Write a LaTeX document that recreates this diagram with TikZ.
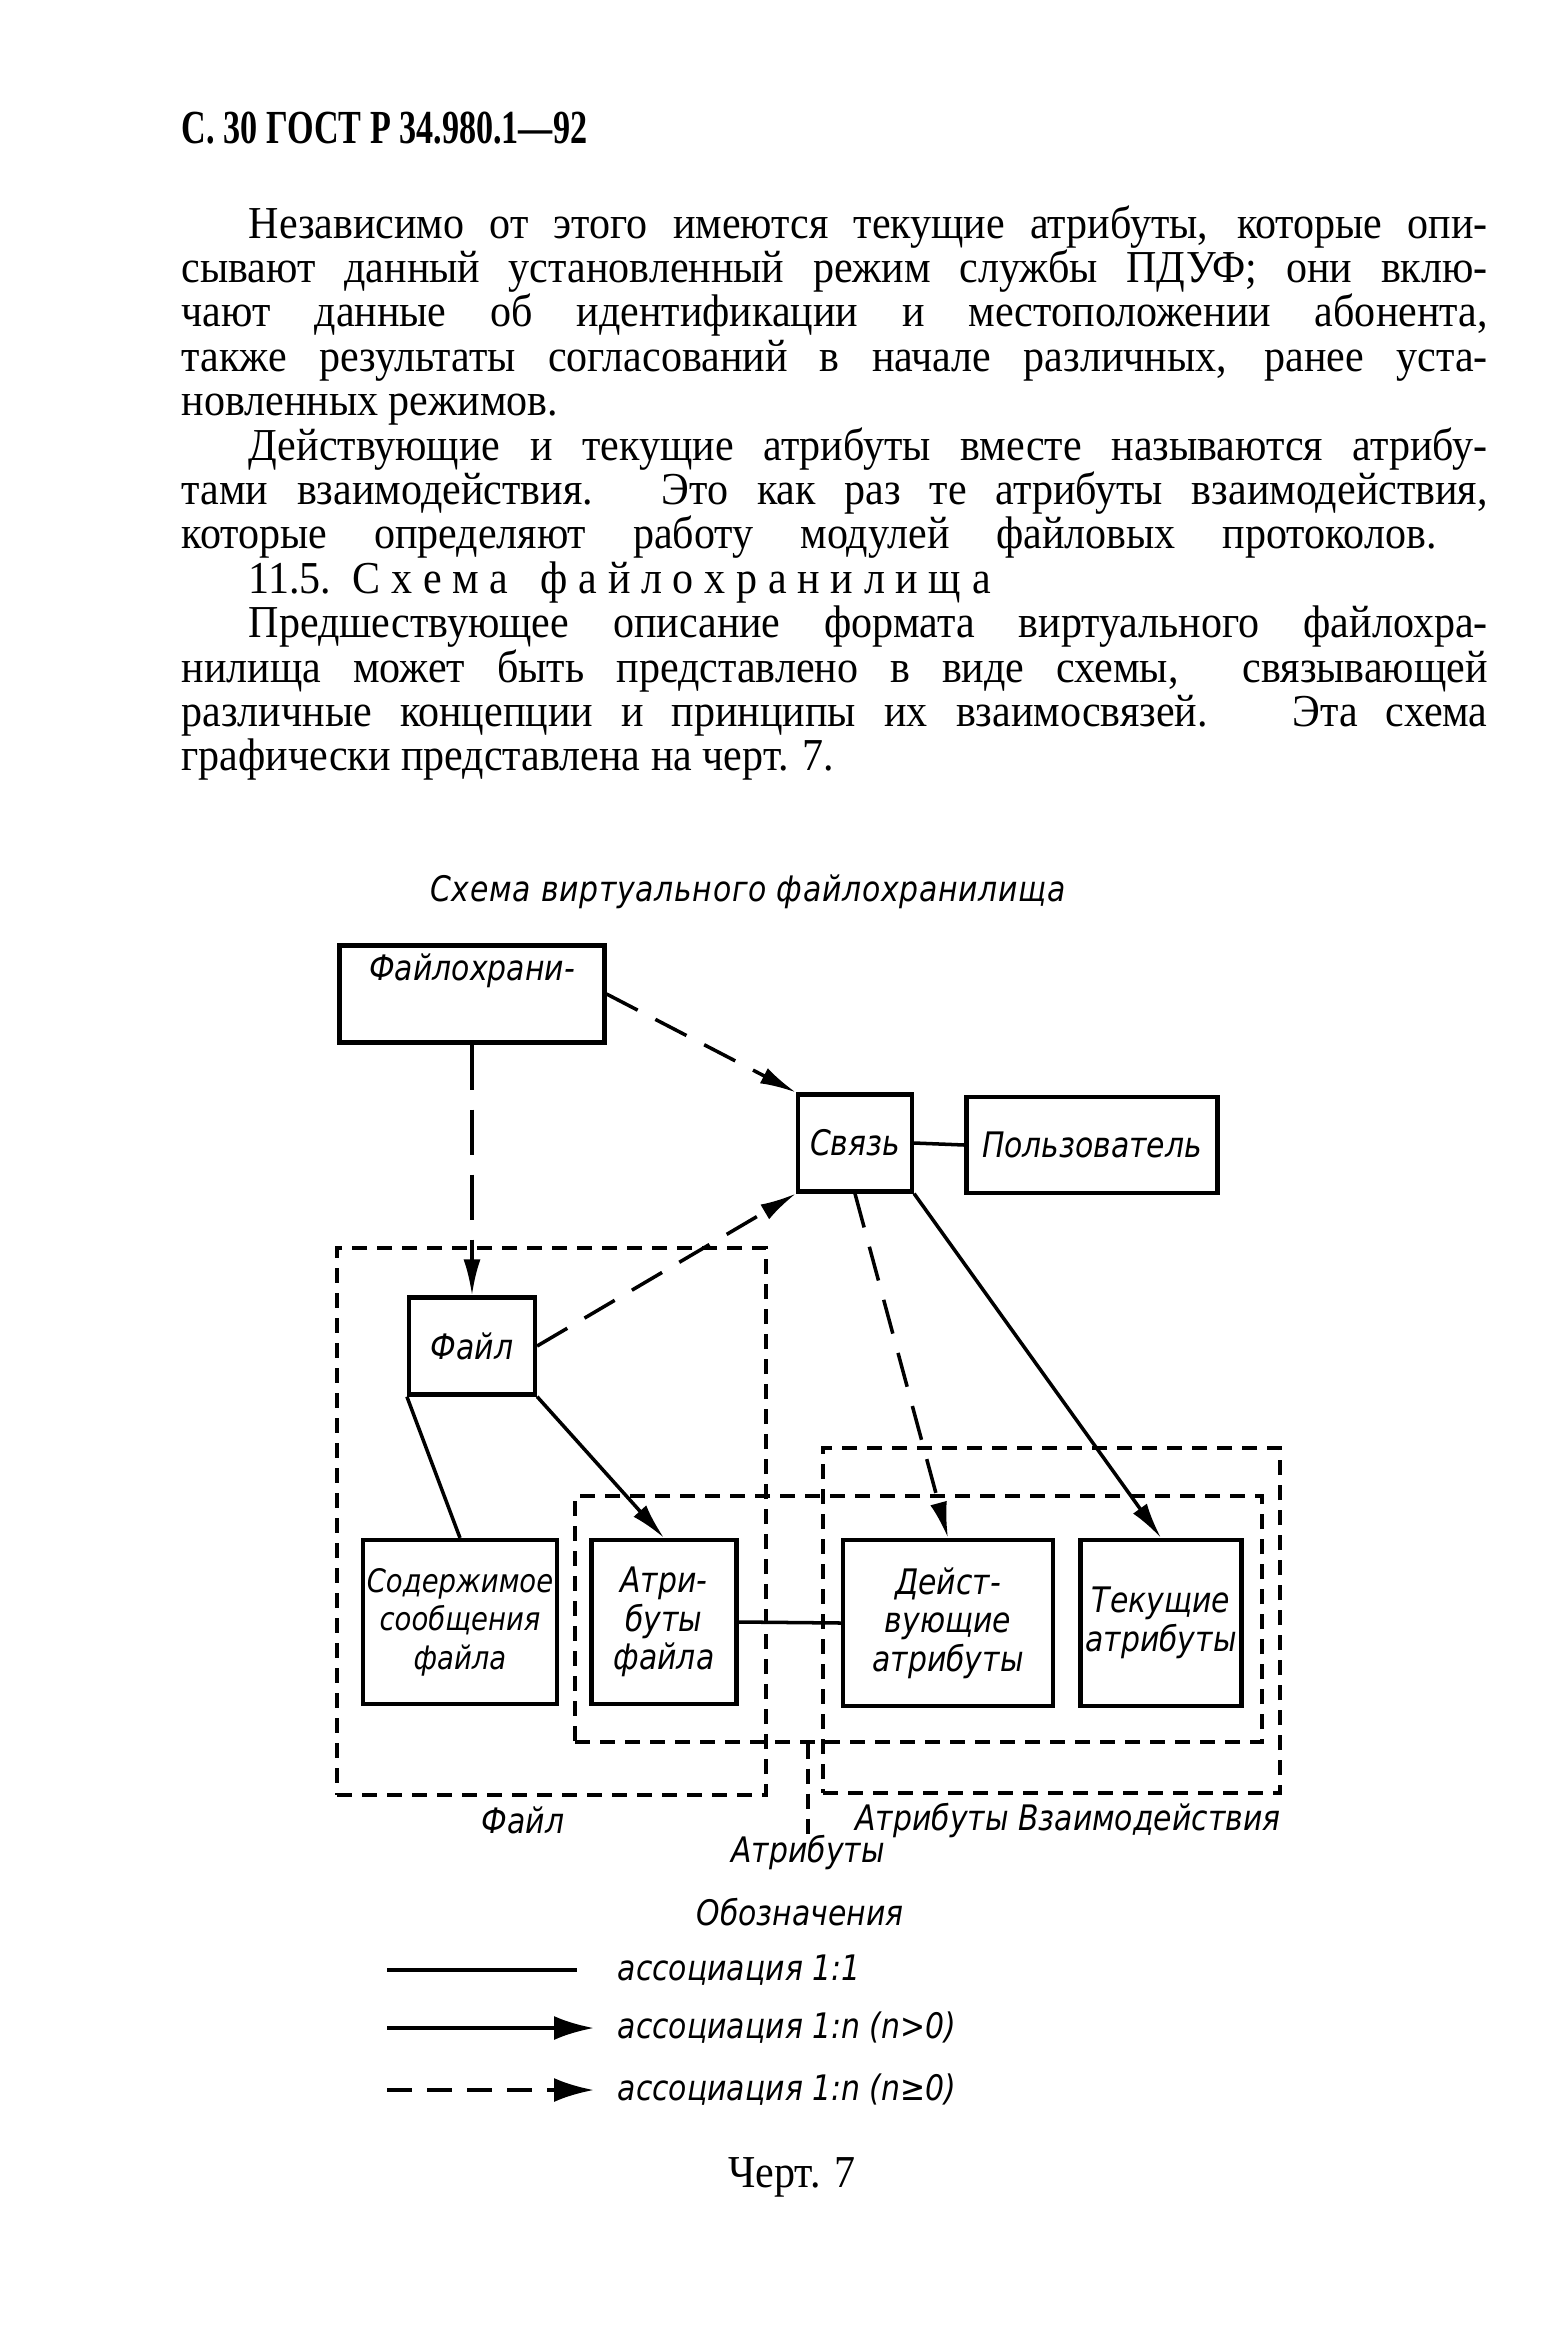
\documentclass[tikz,border=0pt]{standalone}
\usepackage{fontspec}
\setmainfont{Liberation Serif}[FakeStretch=0.92]
\newfontfamily\headfont{Liberation Serif}[FakeStretch=0.72]
\newfontfamily\drawfont{DejaVu Sans}[FakeStretch=0.85]
\usetikzlibrary{arrows.meta}

\begin{document}
\begin{tikzpicture}[x=0.1mm, y=-0.1mm]
  \tikzset{
    txt/.style={inner sep=0pt, font=\fontsize{13}{15}\selectfont},
    box/.style={draw, line width=1.2pt, inner sep=1pt, align=center,
      font=\drawfont\itshape\fontsize{10}{11}\selectfont},
    grp/.style={draw, line width=0.9pt, dash pattern=on 1.5mm off 1mm, inner sep=0pt},
    grpline/.style={line width=0.9pt, dash pattern=on 1.5mm off 1mm},
    lab/.style={inner sep=0pt, font=\drawfont\itshape\fontsize{10}{12}\selectfont},
    link/.style={line width=1pt},
    many/.style={line width=1pt, -{Latex[length=3.6mm, width=1.7mm]}},
    maybe/.style={line width=1pt, dash pattern=on 3.5mm off 2mm, -{Latex[length=3.6mm, width=1.7mm]}},
  }
  \fill[white] (0,0) rectangle (1551,2332);
  \useasboundingbox (0,0) rectangle (1551,2332);

  % page head and text
  \node[txt, anchor=base west] (hd) at (181,143) {\headfont\bfseries\fontsize{13.5}{15}\selectfont С. 30 ГОСТ Р 34.980.1—92};
  \node[txt, anchor=base west] (t1) at (248,238) {\makebox[123.9mm][s]{Независимо от этого имеются текущие атрибуты, которые опи-}};
  \node[txt, anchor=base west] (t2) at (181,282.4) {\makebox[130.6mm][s]{сывают данный установленный режим службы ПДУФ; они вклю-}};
  \node[txt, anchor=base west] (t3) at (181,326.8) {\makebox[130.6mm][s]{чают данные об идентификации и местоположении абонента,}};
  \node[txt, anchor=base west] (t4) at (181,371.2) {\makebox[130.6mm][s]{также результаты согласований в начале различных, ранее уста-}};
  \node[txt, anchor=base west] (t5) at (181,415.6) {новленных режимов.};
  \node[txt, anchor=base west] (t6) at (248,460) {\makebox[123.9mm][s]{Действующие и текущие атрибуты вместе называются атрибу-}};
  \node[txt, anchor=base west] (t7) at (181,504.4) {\makebox[130.6mm][s]{тами взаимодействия. Это как раз те атрибуты взаимодействия,}};
  \node[txt, anchor=base west] (t8) at (181,548.8) {\makebox[125.5mm][s]{которые определяют работу модулей файловых протоколов.}};
  \node[txt, anchor=base west] (t9) at (248,593.2) {\makebox[74.2mm][s]{11.5.\ \ С х е м а\ \ \ ф а й л о х р а н и л и щ а}};
  \node[txt, anchor=base west] (t10) at (248,637.6) {\makebox[123.9mm][s]{Предшествующее описание формата виртуального файлохра-}};
  \node[txt, anchor=base west] (t11) at (181,682) {\makebox[130.6mm][s]{нилища может быть представлено в виде схемы,\ \ связывающей}};
  \node[txt, anchor=base west] (t12) at (181,726.4) {\makebox[130.6mm][s]{различные концепции и принципы их взаимосвязей.\ \ \ Эта схема}};
  \node[txt, anchor=base west] (t13) at (181,770.8) {графически представлена на черт. 7.};

  % title
  \node[lab] (ttl) at (748,892) {\addfontfeature{LetterSpace=2}Схема виртуального файлохранилища};

  % groups
  \node[grp, minimum width=42.9mm, minimum height=54.7mm] (gfl) at (551.5,1521.5) {};
  \node[grp, minimum width=45.7mm, minimum height=34.5mm] (gvz) at (1051.5,1620.5) {};
  \node[grp, minimum width=68.7mm, minimum height=24.6mm] (gat) at (918.5,1619) {};

  % boxes
  \node[box, minimum width=26.5mm, minimum height=9.7mm] (fh) at (472,994) {Файлохрани-\\[1.5mm]\mbox{}};
  \node[box, minimum width=11.4mm, minimum height=9.7mm] (sv) at (855,1143) {Связь};
  \node[box, minimum width=25.1mm, minimum height=9.6mm] (pz) at (1092,1145) {Пользователь};
  \node[box, minimum width=12.6mm, minimum height=9.7mm] (fl) at (472,1346) {Файл};
  \node[box, minimum width=18.4mm, minimum height=16.4mm, font=\drawfont\itshape\fontsize{9.2}{11}\selectfont] (sd) at (460,1622) {Содержимое\\сообщения\\файла};
  \node[box, minimum width=14.5mm, minimum height=16.4mm] (af) at (664,1622) {Атри-\\буты\\файла};
  \node[box, minimum width=21mm, minimum height=16.6mm] (da) at (948,1623) {Дейст-\\вующие\\атрибуты};
  \node[box, minimum width=16.1mm, minimum height=16.6mm] (ta) at (1161,1623) {Текущие\\атрибуты};

  % group labels
  \node[lab] (lfl) at (523,1820) {Файл};
  \node[lab] (lvz) at (1068,1820) {Атрибуты Взаимодействия};
  \node[lab] (lat) at (808,1852) {Атрибуты};
  \draw[grpline] (gat.south -| lat.north) -- (lat.north);

  % connectors
  \draw[maybe] (fh.east) -- (sv.north west);
  \draw[maybe, dash pattern=on 4.5mm off 2mm] (fh.south) -- (fl.north);
  \draw[maybe] (fl.east) -- (sv.south west);
  \draw[link] (sv.east) -- (pz.west);
  \draw[maybe] (sv.south) -- (da.north);
  \draw[many] (sv.south east) -- (ta.north);
  \draw[link] (fl.south west) -- (sd.north);
  \draw[many] (fl.south east) -- (af.north);
  \draw[link] (af.east) -- (da.west);

  % legend
  \node[lab] (leg) at (800,1912) {Обозначения};
  \coordinate (k1a) at (387,1970);
  \coordinate (k1b) at (577,1970);
  \coordinate (k2a) at (387,2028);
  \coordinate (k2b) at (594,2028);
  \coordinate (k3a) at (387,2090);
  \coordinate (k3b) at (594,2090);
  \node[lab, anchor=west] (k1) at (617,1970) {ассоциация 1:1};
  \node[lab, anchor=west] (k2) at (617,2028) {ассоциация 1:n (n>0)};
  \node[lab, anchor=west] (k3) at (617,2090) {ассоциация 1:n (n≥0)};
  \draw[link] (k1a) -- (k1b);
  \draw[line width=1.2pt, -{Latex[length=4mm, width=2.4mm]}] (k2a) -- (k2b);
  \draw[line width=1.2pt, dash pattern=on 2.5mm off 1.5mm, -{Latex[length=4mm, width=2.4mm]}] (k3a) -- (k3b);

  \node[txt] (chrt) at (792,2177) {Черт. 7};
\end{tikzpicture}
\end{document}
